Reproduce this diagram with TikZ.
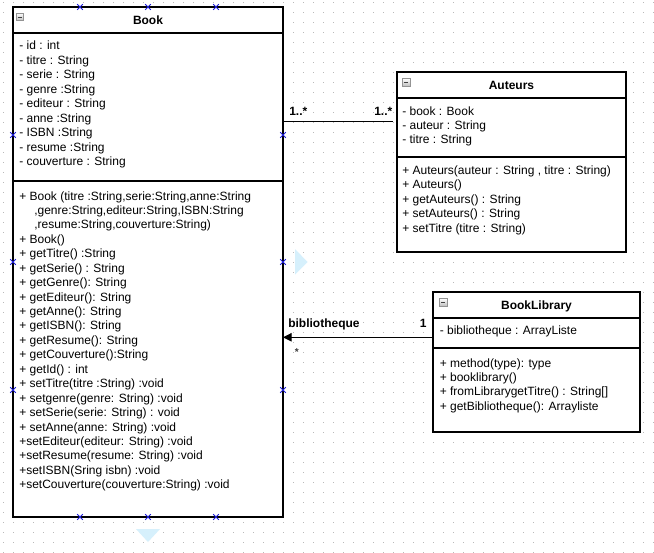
\documentclass[tikz,border=0pt]{standalone}
\usepackage{fontspec}
\setmainfont{Liberation Sans}
\usetikzlibrary{arrows.meta}
\definecolor{hintblue}{RGB}{214,240,252}
\definecolor{dotc}{RGB}{185,185,185}
\definecolor{mkblue}{RGB}{30,30,220}
\begin{document}
\begin{tikzpicture}[x=0.75pt,y=-0.75pt,
  txt/.style={anchor=base west, inner sep=0, font=\fontsize{9}{10}\selectfont},
  ttl/.style={anchor=base, inner sep=0, font=\fontsize{9}{10}\selectfont\bfseries},
  lbl/.style={anchor=base west, inner sep=0, font=\fontsize{9}{10}\selectfont\bfseries},
  cls/.style={draw, line width=0.8pt, fill=white, anchor=north west, inner sep=0, outer sep=0},
  sepline/.style={line width=0.8pt},
  conn/.style={line width=0.75pt},
  hint/.style={fill=hintblue, draw=none},
  collapse/.pic={
    \shade[top color=white, bottom color=gray!50, draw=gray!85] (0,0) rectangle (7.5,7.5);
    \draw[line width=0.9pt, black!75] (1.6,4.2) -- (5.9,4.2);
  },
  xmark/.pic={
    \draw[mkblue, line width=0.6pt] (-2.8,-2.8) -- (2.8,2.8) (-2.8,2.8) -- (2.8,-2.8);
  }]
\useasboundingbox (0,0) rectangle (654,553);
\fill[white] (0,0) rectangle (654,553);
% dotted grid
\foreach \i in {0,...,65}{
  \foreach \j in {0,...,55}{
    \fill[dotc] (3+10*\i,2.3+10*\j) rectangle ++(1.1,1.1);
  }
}
% drag hints
\fill[hint] (295,249) -- (307.5,262) -- (295,274.5) -- cycle;
\fill[hint] (136,529) -- (160,529) -- (148,542) -- cycle;

% ---------- Book ----------
\node[cls, minimum width=202.5pt, minimum height=382.5pt] (book) at (13,7) {};
\draw[sepline] (book.west |- 0,33) -- (book.east |- 0,33);
\draw[sepline] (book.west |- 0,181) -- (book.east |- 0,181);
\pic at (16,13) {collapse};
\node[ttl] (booktitle) at (148,24) {Book};
\foreach \t [count=\k from 0] in {{- id : int},{- titre : String},{- serie : String},{- genre :String},{- editeur : String},{- anne :String},{- ISBN :String},{- resume :String},{- couverture : String}}{
  \node[txt] (ba\k) at (19,50+14.44*\k) {\t};
}
\node[txt] (bm0) at (19,200) {+ Book (titre :String,serie:String,anne:String};
\node[txt] (bm1) at (34,214.44) {,genre:String,editeur:String,ISBN:String};
\node[txt] (bm2) at (34,228.88) {,resume:String,couverture:String)};
\foreach \t [count=\k from 3] in {{+ Book()},{+ getTitre() :String},{+ getSerie() : String},{+ getGenre(): String},{+ getEditeur(): String},{+ getAnne(): String},{+ getISBN(): String},{+ getResume(): String},{+ getCouverture():String},{+ getId() : int},{+ setTitre(titre :String) :void},{+ setgenre(genre: String) :void},{+ setSerie(serie: String) : void},{+ setAnne(anne: String) :void},{+setEditeur(editeur: String) :void},{+setResume(resume: String) :void},{+setISBN(Sring isbn) :void},{+setCouverture(couverture:String) :void}}{
  \node[txt] (bm\k) at (19,200+14.44*\k) {\t};
}
% selection markers
\foreach \xx in {80,148,216}{
  \pic at (\xx,7) {xmark};
  \pic at (\xx,517) {xmark};
}
\foreach \yy in {135,262,390}{
  \pic at (13,\yy) {xmark};
  \pic at (283,\yy) {xmark};
}

% ---------- Auteurs ----------
\node[cls, minimum width=171.75pt, minimum height=135pt] (auteurs) at (397,72) {};
\draw[sepline] (auteurs.west |- 0,98) -- (auteurs.east |- 0,98);
\draw[sepline] (auteurs.west |- 0,157) -- (auteurs.east |- 0,157);
\pic at (402.5,78.5) {collapse};
\node[ttl] (auttitle) at (511.5,89) {Auteurs};
\foreach \t [count=\k from 0] in {{- book : Book},{- auteur : String},{- titre : String}}{
  \node[txt] (aa\k) at (402,115+14.44*\k) {\t};
}
\foreach \t [count=\k from 0] in {{+ Auteurs(auteur : String , titre : String)},{+ Auteurs()},{+ getAuteurs() : String},{+ setAuteurs() : String},{+ setTitre (titre : String)}}{
  \node[txt] (am\k) at (402,174.5+14.44*\k) {\t};
}

% ---------- BookLibrary ----------
\node[cls, minimum width=155.25pt, minimum height=105pt] (lib) at (433,292) {};
\draw[sepline] (lib.west |- 0,318) -- (lib.east |- 0,318);
\draw[sepline] (lib.west |- 0,348) -- (lib.east |- 0,348);
\pic at (439.5,298.5) {collapse};
\node[ttl] (libtitle) at (536.5,309.3) {BookLibrary};
\node[txt] (la0) at (439.5,334.5) {- bibliotheque : ArrayListe};
\foreach \t [count=\k from 0] in {{+ method(type): type},{+ booklibrary()},{+ fromLibrarygetTitre() : String[]},{+ getBibliotheque(): Arrayliste}}{
  \node[txt] (lm\k) at (439.5,367+14.44*\k) {\t};
}

% ---------- connectors ----------
\coordinate (autend) at ([xshift=-3pt]auteurs.west |- 0,121);
\draw[conn] (book.east |- 0,121) -- (autend);
\node[lbl] (m1) at (289,115) {1..*};
\node[lbl] (m2) at (374,115) {1..*};

\draw[conn, -{Triangle[length=6.5pt,width=6.4pt]}] (lib.west |- 0,337.3) -- (book.east |- 0,337.3);
\node[lbl] (rl) at (288,327.3) {bibliotheque};
\node[lbl] (m3) at (419.5,327.3) {1};
\node[anchor=center, inner sep=0, font=\fontsize{7.5}{8}\selectfont\bfseries, text=gray!45!black] (m4) at (296.7,352.5) {*};
\end{tikzpicture}
\end{document}
